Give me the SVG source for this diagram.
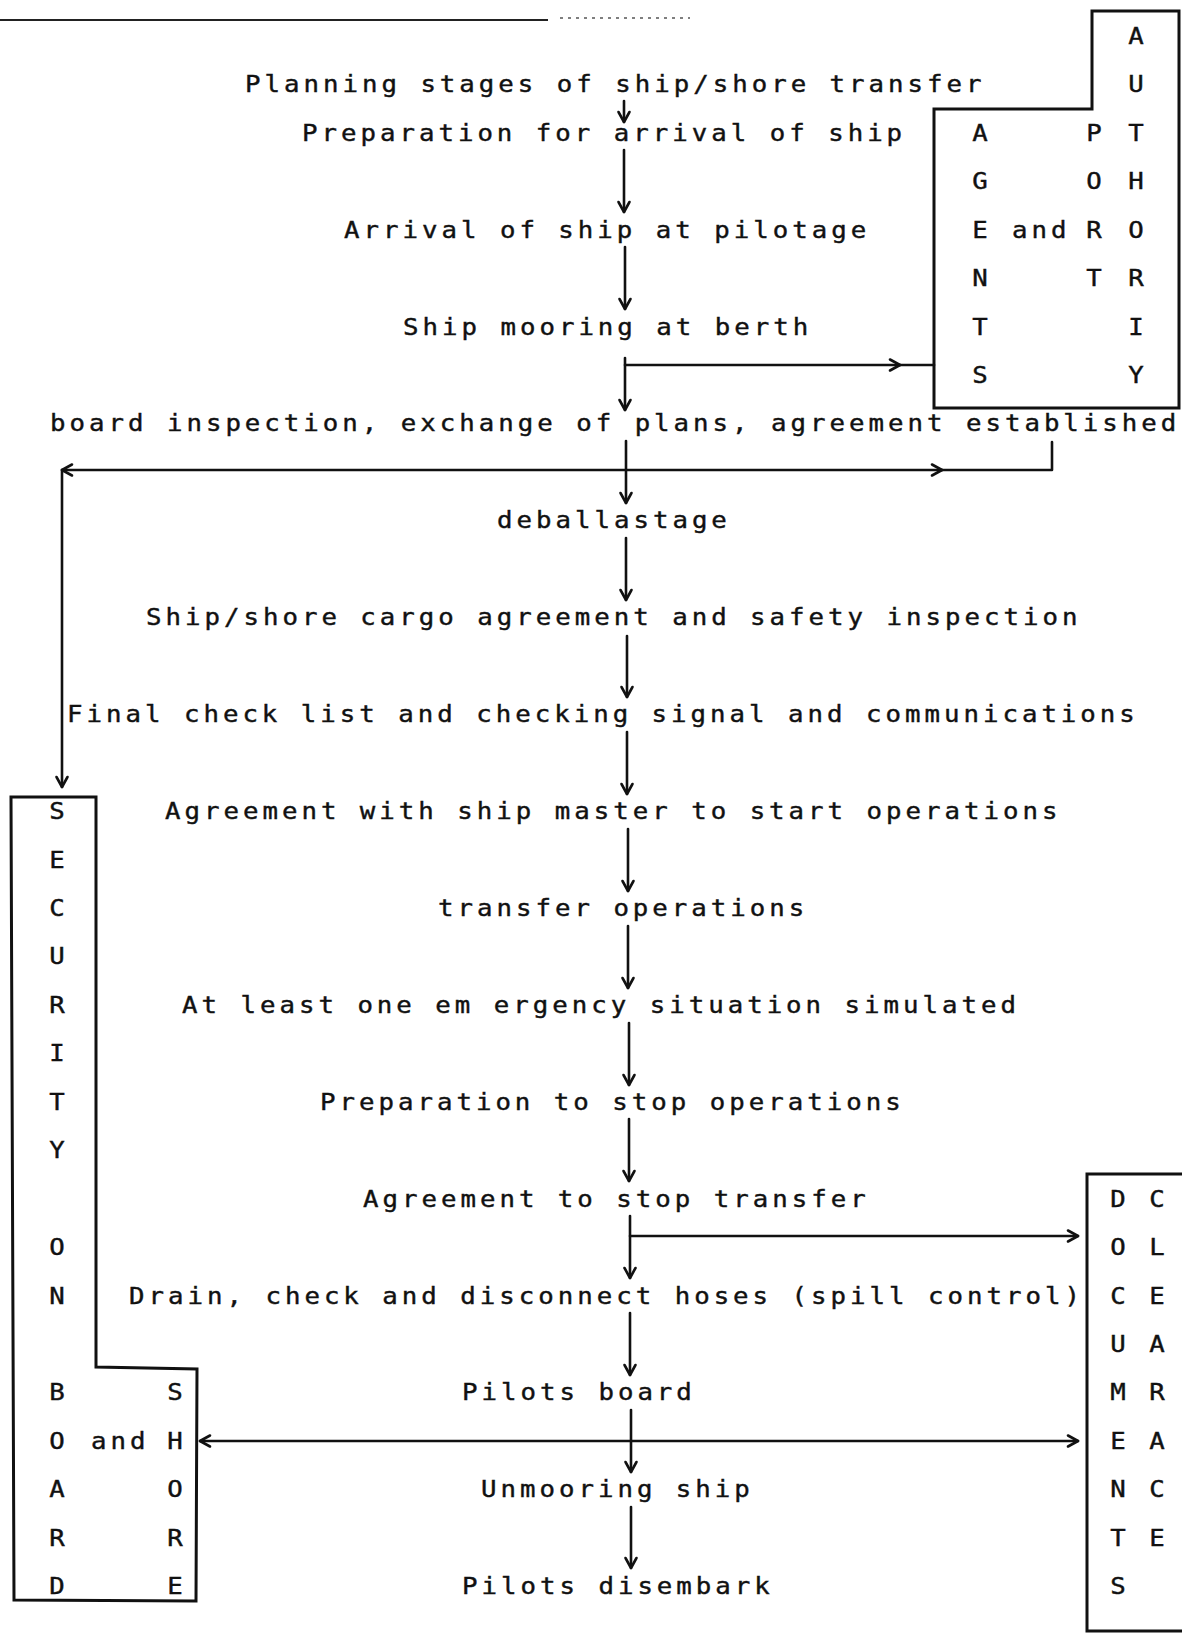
<svg xmlns="http://www.w3.org/2000/svg" width="1182" height="1634" viewBox="0 0 1182 1634">
<defs>
<style>
.t{font-family:"DejaVu Sans Mono","Liberation Mono",monospace;font-size:23px;fill:#111;stroke:#111;stroke-width:0.4;letter-spacing:3.56px}
.l{font-family:"DejaVu Sans Mono","Liberation Mono",monospace;font-size:23px;fill:#111;stroke:#111;stroke-width:0.4;text-anchor:middle}
.c{fill:none;stroke:#111;stroke-width:2.6;stroke-linecap:round;stroke-linejoin:round}
.b{fill:none;stroke:#111;stroke-width:3;stroke-linejoin:miter}
</style>
<marker id="ah" viewBox="-12 -8 14 16" refX="0" refY="0" markerWidth="14" markerHeight="16" markerUnits="userSpaceOnUse" orient="auto">
<path d="M-10,-5.5 L0,0 L-10,5.5" fill="none" stroke="#111" stroke-width="2.6" stroke-linecap="round" stroke-linejoin="round"/>
</marker>
</defs>
<rect width="1182" height="1634" fill="#fff"/>
<line x1="0" y1="20" x2="548" y2="20" stroke="#222" stroke-width="2"/>
<line x1="560" y1="18" x2="690" y2="18" stroke="#555" stroke-width="1.5" stroke-dasharray="3 5"/>

<g id="n-planning" transform="scale(1.12 1)"><text class="t" x="218.75" y="92.4">Planning stages of ship/shore transfer</text></g>
<g id="n-preparation" transform="scale(1.12 1)"><text class="t" x="269.64" y="140.8">Preparation for arrival of ship</text></g>
<g id="n-arrival" transform="scale(1.12 1)"><text class="t" x="307.14" y="237.7">Arrival of ship at pilotage</text></g>
<g id="n-mooring" transform="scale(1.12 1)"><text class="t" x="359.82" y="334.6">Ship mooring at berth</text></g>
<g id="n-board" transform="scale(1.12 1)"><text class="t" x="44.64" y="431.5">board inspection, exchange of plans, agreement established</text></g>
<g id="n-deballast" transform="scale(1.12 1)"><text class="t" x="443.75" y="528.4">deballastage</text></g>
<g id="n-cargo" transform="scale(1.12 1)"><text class="t" x="130.36" y="625.3">Ship/shore cargo agreement and safety inspection</text></g>
<g id="n-final" transform="scale(1.12 1)"><text class="t" x="59.82" y="722.2">Final check list and checking signal and communications</text></g>
<g id="n-agree-start" transform="scale(1.12 1)"><text class="t" x="147.32" y="819.1">Agreement with ship master to start operations</text></g>
<g id="n-transfer" transform="scale(1.12 1)"><text class="t" x="391.07" y="916">transfer operations</text></g>
<g id="n-emergency" transform="scale(1.12 1)"><text class="t" x="162.5" y="1012.9">At least one em ergency situation simulated</text></g>
<g id="n-prep-stop" transform="scale(1.12 1)"><text class="t" x="285.71" y="1109.8">Preparation to stop operations</text></g>
<g id="n-agree-stop" transform="scale(1.12 1)"><text class="t" x="324.11" y="1206.7">Agreement to stop transfer</text></g>
<g id="n-drain" transform="scale(1.12 1)"><text class="t" x="115.18" y="1303.6">Drain, check and disconnect hoses (spill control)</text></g>
<g id="n-pilots-board" transform="scale(1.12 1)"><text class="t" x="412.5" y="1400.5">Pilots board</text></g>
<g id="n-unmooring" transform="scale(1.12 1)"><text class="t" x="429.46" y="1497.4">Unmooring ship</text></g>
<g id="n-disembark" transform="scale(1.12 1)"><text class="t" x="412.5" y="1594.3">Pilots disembark</text></g>

<g id="n-agents-authority">
<path class="b" d="M1092,11 L1179,11 L1179,408 L934,408 L934,109 L1092,109 Z"/>
<g transform="scale(1.12 1)">
<text class="l" x="1014.29" y="43.9">A</text>
<text class="l" x="1014.29" y="92.4">U</text>
<text class="l" x="1014.29" y="140.8">T</text>
<text class="l" x="1014.29" y="189.3">H</text>
<text class="l" x="1014.29" y="237.7">O</text>
<text class="l" x="1014.29" y="286.2">R</text>
<text class="l" x="1014.29" y="334.6">I</text>
<text class="l" x="1014.29" y="383.1">Y</text>
<text class="l" x="875" y="140.8">A</text>
<text class="l" x="875" y="189.3">G</text>
<text class="l" x="875" y="237.7">E</text>
<text class="l" x="875" y="286.2">N</text>
<text class="l" x="875" y="334.6">T</text>
<text class="l" x="875" y="383.1">S</text>
<text class="t" x="903.57" y="237.7">and</text>
<text class="l" x="976.79" y="140.8">P</text>
<text class="l" x="976.79" y="189.3">O</text>
<text class="l" x="976.79" y="237.7">R</text>
<text class="l" x="976.79" y="286.2">T</text>
</g>
</g>

<g id="n-security">
<path class="b" d="M11,797 L96,797 L96,1367 L197,1369 L196,1601 L14,1600 Z"/>
<g transform="scale(1.12 1)">
<text class="l" x="50.89" y="819.1">S</text>
<text class="l" x="50.89" y="867.6">E</text>
<text class="l" x="50.89" y="916">C</text>
<text class="l" x="50.89" y="964.5">U</text>
<text class="l" x="50.89" y="1012.9">R</text>
<text class="l" x="50.89" y="1061.4">I</text>
<text class="l" x="50.89" y="1109.8">T</text>
<text class="l" x="50.89" y="1158.3">Y</text>
<text class="l" x="50.89" y="1255.2">O</text>
<text class="l" x="50.89" y="1303.6">N</text>
<text class="l" x="50.89" y="1400.5">B</text>
<text class="l" x="50.89" y="1449">O</text>
<text class="l" x="50.89" y="1497.4">A</text>
<text class="l" x="50.89" y="1545.9">R</text>
<text class="l" x="50.89" y="1594.3">D</text>
<text class="t" x="81.25" y="1449">and</text>
<text class="l" x="156.25" y="1400.5">S</text>
<text class="l" x="156.25" y="1449">H</text>
<text class="l" x="156.25" y="1497.4">O</text>
<text class="l" x="156.25" y="1545.9">R</text>
<text class="l" x="156.25" y="1594.3">E</text>
</g>
</g>

<g id="n-documents">
<path class="b" d="M1182,1174 L1087,1174 L1087,1631 L1182,1631"/>
<g transform="scale(1.12 1)">
<text class="l" x="998.21" y="1206.7">D</text>
<text class="l" x="998.21" y="1255.2">O</text>
<text class="l" x="998.21" y="1303.6">C</text>
<text class="l" x="998.21" y="1352.1">U</text>
<text class="l" x="998.21" y="1400.5">M</text>
<text class="l" x="998.21" y="1449">E</text>
<text class="l" x="998.21" y="1497.4">N</text>
<text class="l" x="998.21" y="1545.9">T</text>
<text class="l" x="998.21" y="1594.3">S</text>
<text class="l" x="1033.04" y="1206.7">C</text>
<text class="l" x="1033.04" y="1255.2">L</text>
<text class="l" x="1033.04" y="1303.6">E</text>
<text class="l" x="1033.04" y="1352.1">A</text>
<text class="l" x="1033.04" y="1400.5">R</text>
<text class="l" x="1033.04" y="1449">A</text>
<text class="l" x="1033.04" y="1497.4">C</text>
<text class="l" x="1033.04" y="1545.9">E</text>
</g>
</g>

<g id="connectors">
<line class="c" x1="624" y1="101" x2="624" y2="122" marker-end="url(#ah)"/>
<line class="c" x1="624" y1="150" x2="624" y2="212" marker-end="url(#ah)"/>
<line class="c" x1="625" y1="247" x2="625" y2="309" marker-end="url(#ah)"/>
<line class="c" x1="625" y1="358" x2="625" y2="410" marker-end="url(#ah)"/>
<line class="c" x1="625" y1="365" x2="900" y2="365" marker-end="url(#ah)"/>
<line class="c" x1="900" y1="365" x2="934" y2="365"/>
<line class="c" x1="626" y1="441" x2="626" y2="503" marker-end="url(#ah)"/>
<line class="c" x1="626" y1="470" x2="62" y2="470" marker-end="url(#ah)"/>
<line class="c" x1="62" y1="470" x2="62" y2="787" marker-end="url(#ah)"/>
<line class="c" x1="626" y1="470" x2="942" y2="470" marker-end="url(#ah)"/>
<polyline class="c" points="942,470 1052,470 1052,442"/>
<line class="c" x1="626" y1="538" x2="626" y2="600" marker-end="url(#ah)"/>
<line class="c" x1="627" y1="636" x2="627" y2="697" marker-end="url(#ah)"/>
<line class="c" x1="627" y1="732" x2="627" y2="794" marker-end="url(#ah)"/>
<line class="c" x1="628" y1="829" x2="628" y2="891" marker-end="url(#ah)"/>
<line class="c" x1="628" y1="926" x2="628" y2="988" marker-end="url(#ah)"/>
<line class="c" x1="629" y1="1023" x2="629" y2="1085" marker-end="url(#ah)"/>
<line class="c" x1="629" y1="1119" x2="629" y2="1181" marker-end="url(#ah)"/>
<line class="c" x1="630" y1="1216" x2="630" y2="1278" marker-end="url(#ah)"/>
<line class="c" x1="630" y1="1236" x2="1078" y2="1236" marker-end="url(#ah)"/>
<line class="c" x1="630" y1="1313" x2="630" y2="1375" marker-end="url(#ah)"/>
<line class="c" x1="631" y1="1410" x2="631" y2="1472" marker-end="url(#ah)"/>
<line class="c" x1="631" y1="1441" x2="200" y2="1441" marker-end="url(#ah)"/>
<line class="c" x1="631" y1="1441" x2="1078" y2="1441" marker-end="url(#ah)"/>
<line class="c" x1="631" y1="1507" x2="631" y2="1568" marker-end="url(#ah)"/>
</g>
</svg>
